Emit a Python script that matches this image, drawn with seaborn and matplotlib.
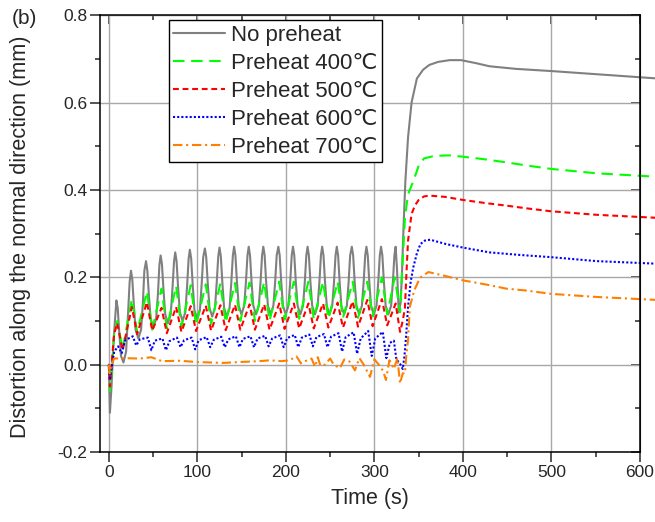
import numpy as np
import matplotlib.pyplot as plt
from matplotlib.ticker import MultipleLocator
import pandas as pd
import seaborn as sns

# values: time (s) and distortion (mm)
t_none = [0, 1.2, 3, 5.5, 8.5, 10, 11.7, 13.7, 16.5, 19.5, 21.5, 23.5,
          25, 26.5, 28.2, 30.2, 33.3, 36.4, 38.4, 40.1,
          42, 43.5, 45.2, 47.2, 50.3, 53.4, 55.4, 57.1,
          58.5, 60, 61.7, 63.7, 66.8, 69.9, 71.9, 73.6,
          75, 76.5, 78.2, 80.2, 83.3, 86.4, 88.4, 90.1,
          91.5, 93, 94.7, 96.7, 99.8, 102.9, 104.9, 106.6,
          108.5, 110, 111.7, 113.7, 116.8, 119.9, 121.9, 123.6,
          125, 126.5, 128.2, 130.2, 133.3, 136.4, 138.4, 140.1,
          141.5, 143, 144.7, 146.7, 149.8, 152.9, 154.9, 156.6,
          158, 159.5, 161.2, 163.2, 166.3, 169.4, 171.4, 173.1,
          174.5, 176, 177.7, 179.7, 182.8, 185.9, 187.9, 189.6,
          191.5, 193, 194.7, 196.7, 199.8, 202.9, 204.9, 206.6,
          208, 209.5, 211.2, 213.2, 216.3, 219.4, 221.4, 223.1,
          224.5, 226, 227.7, 229.7, 232.8, 235.9, 237.9, 239.6,
          241, 242.5, 244.2, 246.2, 249.3, 252.4, 254.4, 256.1,
          257.5, 259, 260.7, 262.7, 265.8, 268.9, 270.9, 272.6,
          274.5, 276, 277.7, 279.7, 282.8, 285.9, 287.9, 289.6,
          291, 292.5, 294.2, 296.2, 299.3, 302.4, 304.4, 306.1,
          307.5, 309, 310.7, 312.7, 315.8, 318.9, 320.9, 322.6,
          324, 325.5, 327.5, 329.5, 331, 333, 335, 338, 342, 348,
          355, 362, 372, 385, 398, 415, 430, 460, 500, 550, 620]
d_none = [0.0, -0.11, -0.05, 0.06, 0.147, 0.13, 0.075, 0.02, 0.005, 0.03, 0.11, 0.19,
          0.215, 0.195, 0.138, 0.08, 0.06, 0.08, 0.14, 0.215,
          0.237, 0.215, 0.16, 0.105, 0.085, 0.105, 0.16, 0.228,
          0.25, 0.23, 0.172, 0.115, 0.095, 0.115, 0.175, 0.235,
          0.257, 0.237, 0.178, 0.12, 0.1, 0.12, 0.18, 0.242,
          0.263, 0.243, 0.184, 0.125, 0.105, 0.125, 0.186, 0.246,
          0.266, 0.246, 0.188, 0.13, 0.11, 0.13, 0.189, 0.248,
          0.268, 0.248, 0.189, 0.13, 0.11, 0.13, 0.19, 0.25,
          0.27, 0.25, 0.19, 0.135, 0.115, 0.135, 0.19, 0.25,
          0.27, 0.25, 0.19, 0.135, 0.115, 0.135, 0.19, 0.25,
          0.27, 0.25, 0.19, 0.135, 0.115, 0.135, 0.19, 0.25,
          0.27, 0.25, 0.19, 0.135, 0.115, 0.135, 0.19, 0.25,
          0.27, 0.25, 0.19, 0.135, 0.115, 0.135, 0.19, 0.25,
          0.27, 0.25, 0.19, 0.135, 0.115, 0.135, 0.19, 0.25,
          0.27, 0.25, 0.19, 0.135, 0.115, 0.135, 0.19, 0.25,
          0.27, 0.25, 0.19, 0.135, 0.115, 0.135, 0.19, 0.25,
          0.27, 0.25, 0.19, 0.135, 0.115, 0.135, 0.19, 0.25,
          0.27, 0.25, 0.19, 0.135, 0.115, 0.135, 0.19, 0.25,
          0.27, 0.25, 0.19, 0.135, 0.115, 0.135, 0.19, 0.25,
          0.27, 0.22, 0.12, 0.14, 0.2, 0.32, 0.42, 0.52, 0.6, 0.655,
          0.675, 0.686, 0.693, 0.697, 0.697, 0.69, 0.683, 0.677, 0.672, 0.665, 0.655]

t_400 = [0, 1.2, 3, 6,
         9.5, 15.5, 26, 32, 43, 49, 59.5, 65.5, 76, 82, 92.5, 98.5,
         109.5, 115.5, 126, 132, 142.5, 148.5, 159, 165, 175.5, 181.5,
         192.5, 198.5, 209, 215, 225.5, 231.5, 242, 248, 258.5, 264.5,
         275.5, 281.5, 292, 298, 308.5, 314.5, 323, 329,
         331, 334.5, 338, 344, 350, 356, 368, 385, 400, 425, 449, 475, 500, 551, 620]
d_400 = [0, -0.06, -0.02, 0.07,
         0.10, 0.035, 0.15, 0.075, 0.168, 0.08, 0.174, 0.083, 0.18, 0.087, 0.182, 0.09,
         0.184, 0.093, 0.186, 0.096, 0.187, 0.1, 0.188, 0.1, 0.189, 0.1,
         0.19, 0.103, 0.19, 0.105, 0.19, 0.105, 0.19, 0.105, 0.19, 0.107,
         0.19, 0.107, 0.19, 0.11, 0.2, 0.115, 0.2, 0.12,
         0.2, 0.336, 0.39, 0.42, 0.455, 0.472, 0.478, 0.479, 0.476, 0.47, 0.463, 0.455, 0.448, 0.438, 0.43]

t_500 = [0, 1.2, 3, 6,
         9.5, 15.5, 26, 32, 43, 49, 59.5, 65.5, 76, 82, 92.5, 98.5,
         109.5, 115.5, 126, 132, 142.5, 148.5, 159, 165, 175.5, 181.5,
         192.5, 198.5, 209, 215, 225.5, 231.5, 242, 248, 258.5, 264.5,
         275.5, 281.5, 292, 298, 308.5, 314.5, 324, 329,
         332, 334.5, 336, 338, 342, 346, 350, 356, 362, 380, 400, 425, 449, 475, 500, 551, 620]
d_500 = [0, -0.05, 0.0, 0.07,
         0.095, 0.033, 0.132, 0.07, 0.143, 0.078, 0.13, 0.072, 0.132, 0.075, 0.134, 0.077,
         0.135, 0.078, 0.136, 0.079, 0.137, 0.08, 0.138, 0.08, 0.138, 0.08,
         0.14, 0.082, 0.14, 0.083, 0.14, 0.083, 0.14, 0.085, 0.142, 0.085,
         0.145, 0.087, 0.148, 0.088, 0.15, 0.09, 0.14, 0.075,
         0.1, 0.13, 0.2, 0.284, 0.345, 0.365, 0.377, 0.385, 0.387, 0.384, 0.377, 0.37, 0.364, 0.357, 0.351, 0.343, 0.336]

t_600 = [0, 1.2, 3, 6,
         10.5, 14.5, 18.5, 27, 31, 35, 44, 48, 52, 60.5, 64.5, 68.5,
         77, 81, 85, 93.5, 97.5, 101.5, 110.5, 114.5, 118.5, 127, 131, 135,
         143.5, 147.5, 151.5, 160, 164, 168, 176.5, 180.5, 184.5, 193.5, 197.5, 201.5,
         210, 214, 218, 226.5, 230.5, 234.5, 243, 247, 251, 259.5, 263.5, 267.5,
         276.5, 280.5, 284.5, 293, 297, 301, 309.5, 313.5, 317.5,
         322, 325, 328, 332, 334, 336, 338, 341, 344, 348, 352, 357, 363,
         381, 400, 430, 465, 500, 551, 620]
d_600 = [0, -0.035, -0.01, 0.03,
         0.042, 0.026, 0.056, 0.065, 0.044, 0.058, 0.062, 0.033, 0.055, 0.06, 0.033, 0.054,
         0.062, 0.04, 0.056, 0.062, 0.035, 0.056, 0.063, 0.04, 0.057, 0.064, 0.04, 0.058,
         0.065, 0.04, 0.059, 0.065, 0.04, 0.06, 0.066, 0.042, 0.06, 0.067, 0.04, 0.061,
         0.068, 0.04, 0.062, 0.069, 0.042, 0.063, 0.07, 0.04, 0.064, 0.072, 0.03, 0.063,
         0.074, 0.025, 0.06, 0.077, 0.02, 0.06, 0.075, 0.015, 0.05,
         0.055, 0.01, 0.006, -0.01, 0.02, 0.07, 0.132, 0.19, 0.223, 0.255, 0.276, 0.284, 0.286,
         0.276, 0.268, 0.257, 0.251, 0.246, 0.237, 0.231]

t_700 = [0, 1, 3, 6, 15, 35, 48, 60, 80, 100, 129, 147, 170, 182, 195, 204,
         212, 217, 224, 229, 233, 236, 239, 244, 250, 254, 261, 266, 272, 278,
         283, 288, 295, 300, 305, 310, 313, 317, 322, 326, 329, 332, 334.5,
         336, 338, 340, 345, 351.6, 361, 380, 400, 430, 449, 470, 500, 551, 620]
d_700 = [0, -0.02, 0.0, 0.014, 0.015, 0.014, 0.017, 0.008, 0.009, 0.006, 0.004, 0.006, 0.008, 0.01, 0.008, 0.01,
         0.019, 0.003, 0.01, 0.014, -0.005, 0.017, -0.002, 0.0, 0.014, 0.0, -0.008, 0.012, 0.007, -0.013,
         0.015, 0.0, -0.028, 0.012, 0.0, -0.015, -0.035, 0.01, -0.01, 0.015, -0.043, -0.02, -0.02,
         0.02, 0.056, 0.132, 0.17, 0.199, 0.212, 0.203, 0.193, 0.182, 0.174, 0.17, 0.162, 0.155, 0.148]

labels = ["No preheat", "Preheat 400\u2103", "Preheat 500\u2103",
          "Preheat 600\u2103", "Preheat 700\u2103"]
colors = ["#808080", "#00ff00", "#ff0000", "#0000ff", "#ff8000"]

sns.set_style("ticks")
plt.rcParams["font.family"] = ["Liberation Sans", "DejaVu Sans"]

fig = plt.figure(figsize=(6.55, 5.22), dpi=100)
ax = fig.add_axes([0.152, 0.134, 0.825, 0.837])

series = [(t_none, d_none), (t_400, d_400), (t_500, d_500), (t_600, d_600), (t_700, d_700)]
dash_styles = [None, (5.5, 3.2), (2.8, 1.8), (1, 1), (4.5, 1.8, 1, 1.8)]
for (t, d), lab, c, ds in zip(series, labels, colors, dash_styles):
    df = pd.DataFrame({"t": t, "d": d})
    sns.lineplot(data=df, x="t", y="d", ax=ax, color=c, lw=1.5, label=lab,
                 estimator=None, sort=False, clip_on=False)
    if ds is not None:
        ax.get_lines()[-1].set_dashes(ds)

ax.set_xlim(-10.5, 600)
ax.set_ylim(-0.2, 0.8)
ax.xaxis.set_major_locator(MultipleLocator(100))
ax.xaxis.set_minor_locator(MultipleLocator(50))
ax.yaxis.set_major_locator(MultipleLocator(0.2))
ax.yaxis.set_minor_locator(MultipleLocator(0.1))
ax.yaxis.set_major_formatter(plt.FuncFormatter(lambda v, p: f"{v:.1f}"))
ax.grid(True, which="major", color="#a8a8a8", lw=1)
ax.set_axisbelow(True)
ax.tick_params(which="major", direction="out", length=7, width=1.1, labelsize=12.5, pad=2)
ax.tick_params(which="minor", direction="out", length=3.5, width=1.1)
for s in ax.spines.values():
    s.set_linewidth(1.1)
    s.set_color("black")

top = ax.secondary_xaxis("top")
top.xaxis.set_major_locator(MultipleLocator(100))
top.xaxis.set_minor_locator(MultipleLocator(50))
top.tick_params(which="major", direction="in", length=6.5, width=1.1, labeltop=False)
top.tick_params(which="minor", direction="in", length=3.5, width=1.1)
right = ax.secondary_yaxis("right")
right.yaxis.set_major_locator(MultipleLocator(0.2))
right.yaxis.set_minor_locator(MultipleLocator(0.1))
right.tick_params(which="major", direction="in", length=6.5, width=1.1, labelright=False)
right.tick_params(which="minor", direction="in", length=3.5, width=1.1)

ax.set_xlabel("Time (s)", fontsize=15.5, labelpad=6)
ax.set_ylabel("Distortion along the normal direction (mm)", fontsize=15.6)
ax.yaxis.set_label_coords(-0.126, 0.492)
fig.text(0.018, 0.983, "(b)", fontsize=15, va="top")

leg = ax.legend(loc="upper left", bbox_to_anchor=(0.1286, 0.9886), borderaxespad=0,
                fontsize=16, frameon=True, fancybox=False, framealpha=1,
                edgecolor="black", handlelength=2.3, handletextpad=0.3,
                labelspacing=0.32, borderpad=0.2)
leg.get_frame().set_linewidth(1.0)

fig.savefig("out.png", dpi=100)
